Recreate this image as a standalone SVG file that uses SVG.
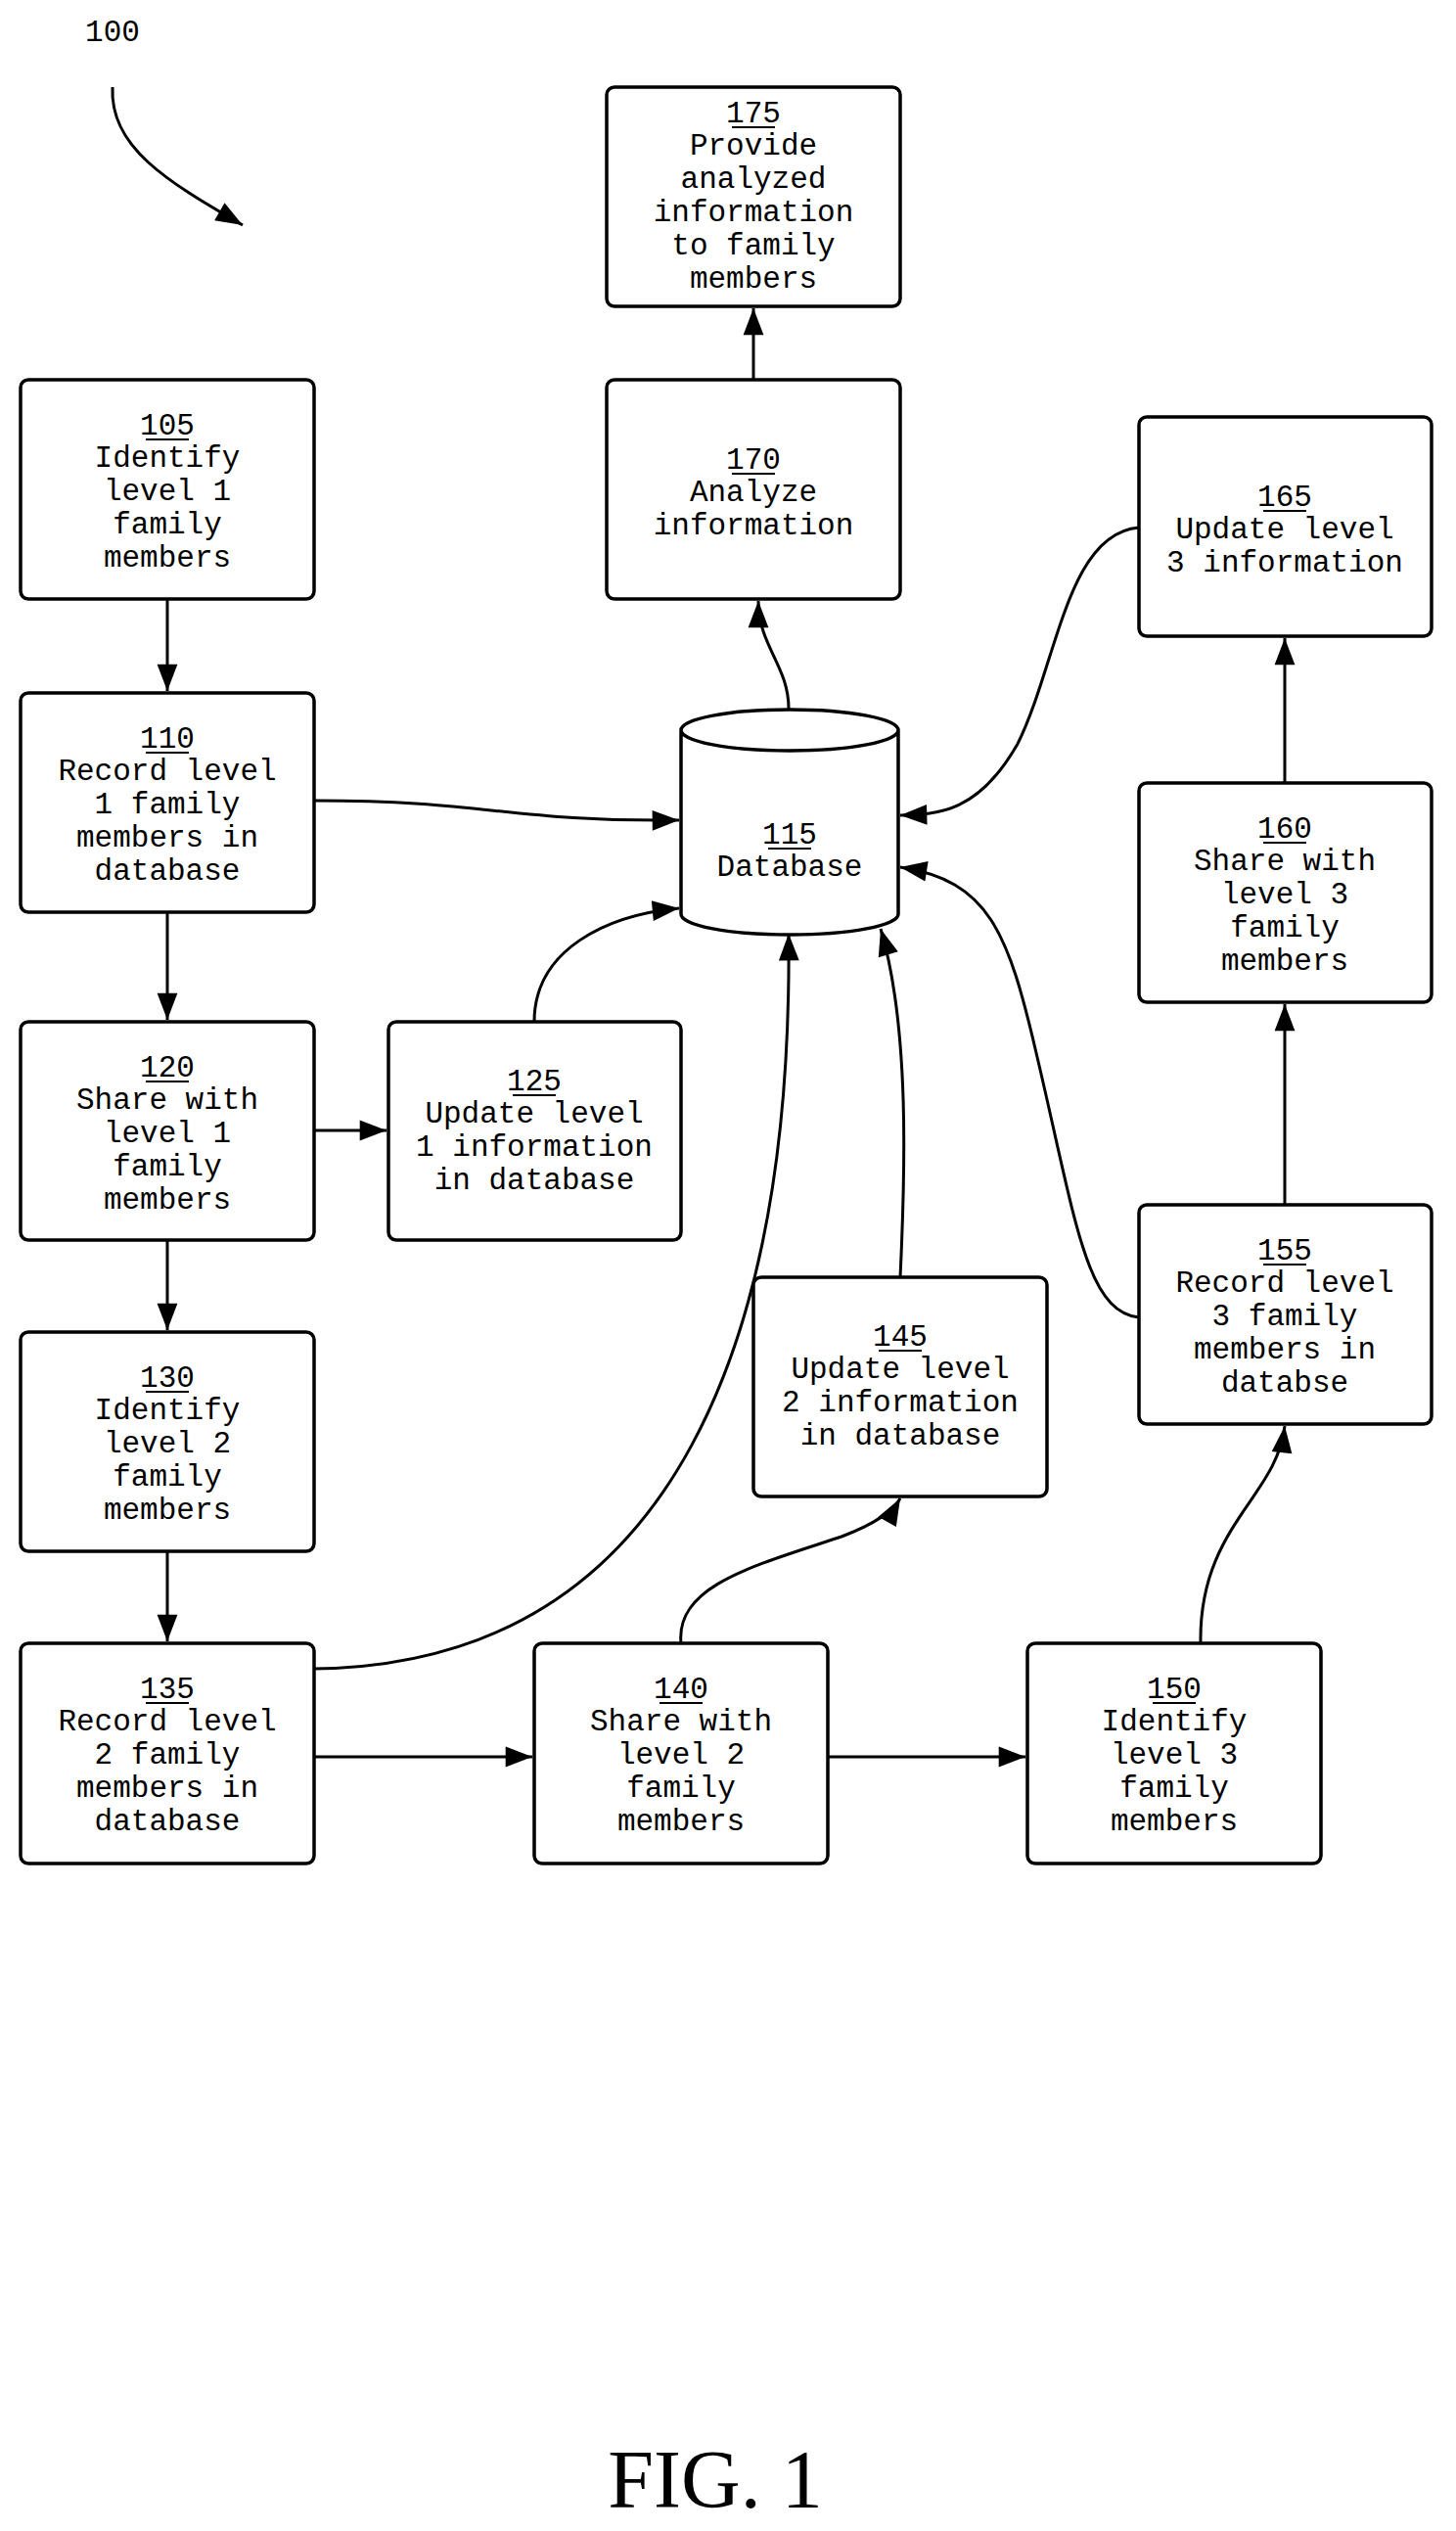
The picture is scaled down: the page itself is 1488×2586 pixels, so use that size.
<svg xmlns="http://www.w3.org/2000/svg" width="1488" height="2586" viewBox="0 0 1488 2586">
<style>
.b{fill:#fff;stroke:#000;stroke-width:3.5}
.t{font-family:"Liberation Mono",monospace;font-size:31px;text-anchor:middle;fill:#000}
.c path{fill:none;stroke:#000;stroke-width:3;marker-end:url(#a)}
</style>
<defs><marker id="a" viewBox="0 0 10 10" refX="8" refY="5" markerWidth="13" markerHeight="13" markerUnits="userSpaceOnUse" orient="auto" style="overflow:visible"><path d="M-13,-3 L8,5 L-13,13 Z" fill="#000"/></marker></defs>
<rect width="1488" height="2586" fill="#fff"/>
<text x="115" y="42" class="t">100</text>
<g class="c">
<path d="M115,89 C112,150 170,185 248,230"/>
<path d="M171,612 L171,706"/>
<path d="M321,818 C500,818 520,840 694,838"/>
<path d="M171,932 L171,1042"/>
<path d="M321,1155 L395,1155"/>
<path d="M546,1044 C546,970 620,935 694,928"/>
<path d="M171,1267 L171,1359"/>
<path d="M171,1585 L171,1677"/>
<path d="M321,1705 C700,1700 810,1350 806,954"/>
<path d="M321,1795 L544,1795"/>
<path d="M846,1795 L1048,1795"/>
<path d="M696,1679 C690,1620 770,1600 860,1570 C900,1555 915,1540 920,1531"/>
<path d="M920,1305 C925,1200 930,1050 900,949"/>
<path d="M1164,1346 C1110,1340 1100,1250 1060,1080 C1030,950 1010,900 920,886"/>
<path d="M1227,1679 C1225,1560 1305,1530 1313,1457"/>
<path d="M1313,1231 L1313,1026"/>
<path d="M1313,800 L1313,652"/>
<path d="M1164,539 C1090,545 1080,680 1040,760 C1000,830 960,832 920,833"/>
<path d="M806,724 C806,680 775,660 775,614"/>
<path d="M770,388 L770,315"/>
</g>
<g id="n175"><rect class="b" x="620" y="89" width="300" height="224" rx="8"/><text class="t" x="770" y="125">175</text><path d="M748,130H792" stroke="#000" stroke-width="2"/><text class="t"><tspan x="770" y="158">Provide</tspan><tspan x="770" y="192">analyzed</tspan><tspan x="770" y="226">information</tspan><tspan x="770" y="260">to family</tspan><tspan x="770" y="294">members</tspan></text></g>
<g id="n105"><rect class="b" x="21" y="388" width="300" height="224" rx="8"/><text class="t" x="171" y="444">105</text><path d="M149,449H193" stroke="#000" stroke-width="2"/><text class="t"><tspan x="171" y="477">Identify</tspan><tspan x="171" y="511">level 1</tspan><tspan x="171" y="545">family</tspan><tspan x="171" y="579">members</tspan></text></g>
<g id="n170"><rect class="b" x="620" y="388" width="300" height="224" rx="8"/><text class="t" x="770" y="479">170</text><path d="M748,484H792" stroke="#000" stroke-width="2"/><text class="t"><tspan x="770" y="512">Analyze</tspan><tspan x="770" y="546">information</tspan></text></g>
<g id="n165"><rect class="b" x="1164" y="426" width="299" height="224" rx="8"/><text class="t" x="1313" y="517">165</text><path d="M1291,522H1335" stroke="#000" stroke-width="2"/><text class="t"><tspan x="1313" y="550">Update level</tspan><tspan x="1313" y="584">3 information</tspan></text></g>
<g id="n110"><rect class="b" x="21" y="708" width="300" height="224" rx="8"/><text class="t" x="171" y="764">110</text><path d="M149,769H193" stroke="#000" stroke-width="2"/><text class="t"><tspan x="171" y="797">Record level</tspan><tspan x="171" y="831">1 family</tspan><tspan x="171" y="865">members in</tspan><tspan x="171" y="899">database</tspan></text></g>
<g id="n115"><path class="b" d="M696,746 L696,934 A111,21 0 0 0 918,934 L918,746 A111,21 0 0 0 696,746 A111,21 0 0 0 918,746"/><text class="t" x="807" y="862">115</text><path d="M785,867H829" stroke="#000" stroke-width="2"/><text class="t" x="807" y="895">Database</text></g>
<g id="n160"><rect class="b" x="1164" y="800" width="299" height="224" rx="8"/><text class="t" x="1313" y="856">160</text><path d="M1291,861H1335" stroke="#000" stroke-width="2"/><text class="t"><tspan x="1313" y="889">Share with</tspan><tspan x="1313" y="923">level 3</tspan><tspan x="1313" y="957">family</tspan><tspan x="1313" y="991">members</tspan></text></g>
<g id="n120"><rect class="b" x="21" y="1044" width="300" height="223" rx="8"/><text class="t" x="171" y="1100">120</text><path d="M149,1105H193" stroke="#000" stroke-width="2"/><text class="t"><tspan x="171" y="1133">Share with</tspan><tspan x="171" y="1167">level 1</tspan><tspan x="171" y="1201">family</tspan><tspan x="171" y="1235">members</tspan></text></g>
<g id="n125"><rect class="b" x="397" y="1044" width="299" height="223" rx="8"/><text class="t" x="546" y="1114">125</text><path d="M524,1119H568" stroke="#000" stroke-width="2"/><text class="t"><tspan x="546" y="1147">Update level</tspan><tspan x="546" y="1181">1 information</tspan><tspan x="546" y="1215">in database</tspan></text></g>
<g id="n155"><rect class="b" x="1164" y="1231" width="299" height="224" rx="8"/><text class="t" x="1313" y="1287">155</text><path d="M1291,1292H1335" stroke="#000" stroke-width="2"/><text class="t"><tspan x="1313" y="1320">Record level</tspan><tspan x="1313" y="1354">3 family</tspan><tspan x="1313" y="1388">members in</tspan><tspan x="1313" y="1422">databse</tspan></text></g>
<g id="n145"><rect class="b" x="770" y="1305" width="300" height="224" rx="8"/><text class="t" x="920" y="1375">145</text><path d="M898,1380H942" stroke="#000" stroke-width="2"/><text class="t"><tspan x="920" y="1408">Update level</tspan><tspan x="920" y="1442">2 information</tspan><tspan x="920" y="1476">in database</tspan></text></g>
<g id="n130"><rect class="b" x="21" y="1361" width="300" height="224" rx="8"/><text class="t" x="171" y="1417">130</text><path d="M149,1422H193" stroke="#000" stroke-width="2"/><text class="t"><tspan x="171" y="1450">Identify</tspan><tspan x="171" y="1484">level 2</tspan><tspan x="171" y="1518">family</tspan><tspan x="171" y="1552">members</tspan></text></g>
<g id="n135"><rect class="b" x="21" y="1679" width="300" height="225" rx="8"/><text class="t" x="171" y="1735">135</text><path d="M149,1740H193" stroke="#000" stroke-width="2"/><text class="t"><tspan x="171" y="1768">Record level</tspan><tspan x="171" y="1802">2 family</tspan><tspan x="171" y="1836">members in</tspan><tspan x="171" y="1870">database</tspan></text></g>
<g id="n140"><rect class="b" x="546" y="1679" width="300" height="225" rx="8"/><text class="t" x="696" y="1735">140</text><path d="M674,1740H718" stroke="#000" stroke-width="2"/><text class="t"><tspan x="696" y="1768">Share with</tspan><tspan x="696" y="1802">level 2</tspan><tspan x="696" y="1836">family</tspan><tspan x="696" y="1870">members</tspan></text></g>
<g id="n150"><rect class="b" x="1050" y="1679" width="300" height="225" rx="8"/><text class="t" x="1200" y="1735">150</text><path d="M1178,1740H1222" stroke="#000" stroke-width="2"/><text class="t"><tspan x="1200" y="1768">Identify</tspan><tspan x="1200" y="1802">level 3</tspan><tspan x="1200" y="1836">family</tspan><tspan x="1200" y="1870">members</tspan></text></g>
<text x="731" y="2562" style="font-family:'Liberation Serif',serif;font-size:84px;text-anchor:middle">FIG. 1</text>
</svg>
